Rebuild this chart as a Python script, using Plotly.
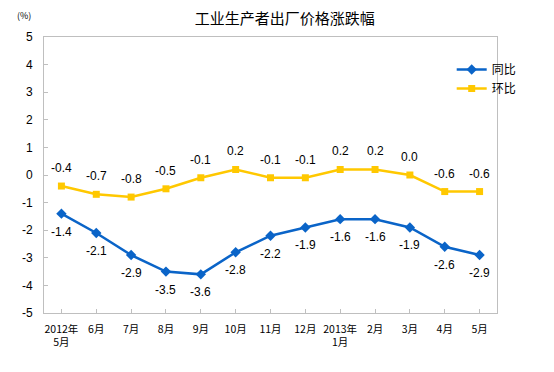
import plotly.graph_objects as go

categories = ["2012年<br>5月", "6月", "7月", "8月", "9月", "10月", "11月", "12月",
              "2013年<br>1月", "2月", "3月", "4月", "5月"]
yoy = [-1.4, -2.1, -2.9, -3.5, -3.6, -2.8, -2.2, -1.9, -1.6, -1.6, -1.9, -2.6, -2.9]
mom = [-0.4, -0.7, -0.8, -0.5, -0.1, 0.2, -0.1, -0.1, 0.2, 0.2, 0.0, -0.6, -0.6]
y_ticks = [5, 4, 3, 2, 1, 0, -1, -2, -3, -4, -5]

num_font = "Liberation Sans, Arial, sans-serif"
cjk_font = "Noto Sans CJK SC, sans-serif"

BLUE = "#0A64C8"
YELLOW = "#FFC800"

x_idx = list(range(len(categories)))

fig = go.Figure()
fig.add_trace(go.Scatter(
    x=x_idx, y=yoy, name="同比", mode="lines+markers",
    line=dict(color=BLUE, width=2.5),
    marker=dict(symbol="diamond", size=8, color=BLUE),
))
fig.add_trace(go.Scatter(
    x=x_idx, y=mom, name="环比", mode="lines+markers",
    line=dict(color=YELLOW, width=2.5),
    marker=dict(symbol="square", size=7, color=YELLOW),
))

annotations = []
for i, v in zip(x_idx, yoy):
    annotations.append(dict(x=i, y=v, text=f"{v:.1f}", showarrow=False,
                            xanchor="center", yanchor="middle", yshift=-18,
                            font=dict(family=num_font, size=12, color="#000")))
for i, v in zip(x_idx, mom):
    annotations.append(dict(x=i, y=v, text=f"{v:.1f}", showarrow=False,
                            xanchor="center", yanchor="middle", yshift=18,
                            font=dict(family=num_font, size=12, color="#000")))
# unit label "(%)"
annotations.append(dict(text="(%)", xref="paper", yref="paper", x=-0.045, y=1.078,
                        xanchor="center", yanchor="middle", showarrow=False,
                        font=dict(family=cjk_font, size=9, color="#000")))

fig.update_layout(
    width=554, height=372,
    margin=dict(l=44, r=57, t=37, b=59),
    paper_bgcolor="white", plot_bgcolor="white",
    showlegend=True,
    legend=dict(x=0.9, y=0.935, xanchor="left", yanchor="top",
                font=dict(family=cjk_font, size=12, color="#000"),
                bgcolor="rgba(0,0,0,0)", itemwidth=30),
    title=dict(text="工业生产者出厂价格涨跌幅", x=0.514, xanchor="center",
               y=0.95, yanchor="middle", xref="container", yref="container",
               font=dict(family=cjk_font, size=15, color="#000")),
    annotations=annotations,
)

fig.update_xaxes(
    tickmode="array", tickvals=x_idx, ticktext=categories,
    range=[-0.5, len(categories) - 0.5],
    showgrid=False, zeroline=False,
    showline=True, linecolor="#BFBFBF", linewidth=1, mirror=True,
    ticks="inside", tickson="boundaries", ticklen=4, tickcolor="#BFBFBF",
    ticklabelstandoff=6,
    tickfont=dict(family=cjk_font, size=10.5, color="#000"),
)
fig.update_yaxes(
    range=[-5, 5], tickmode="array", tickvals=y_ticks,
    ticktext=[str(v) for v in y_ticks],
    showgrid=False, zeroline=False,
    showline=True, linecolor="#BFBFBF", linewidth=1, mirror=True,
    ticks="inside", ticklen=4, tickcolor="#BFBFBF",
    ticklabelstandoff=8,
    tickfont=dict(family=num_font, size=12, color="#000"),
)

# remove the browser's default 8px body margin so the figure sits at the page origin
fig.write_html("out.html", config={"displayModeBar": False},
               post_script="document.body.style.margin='0';")
